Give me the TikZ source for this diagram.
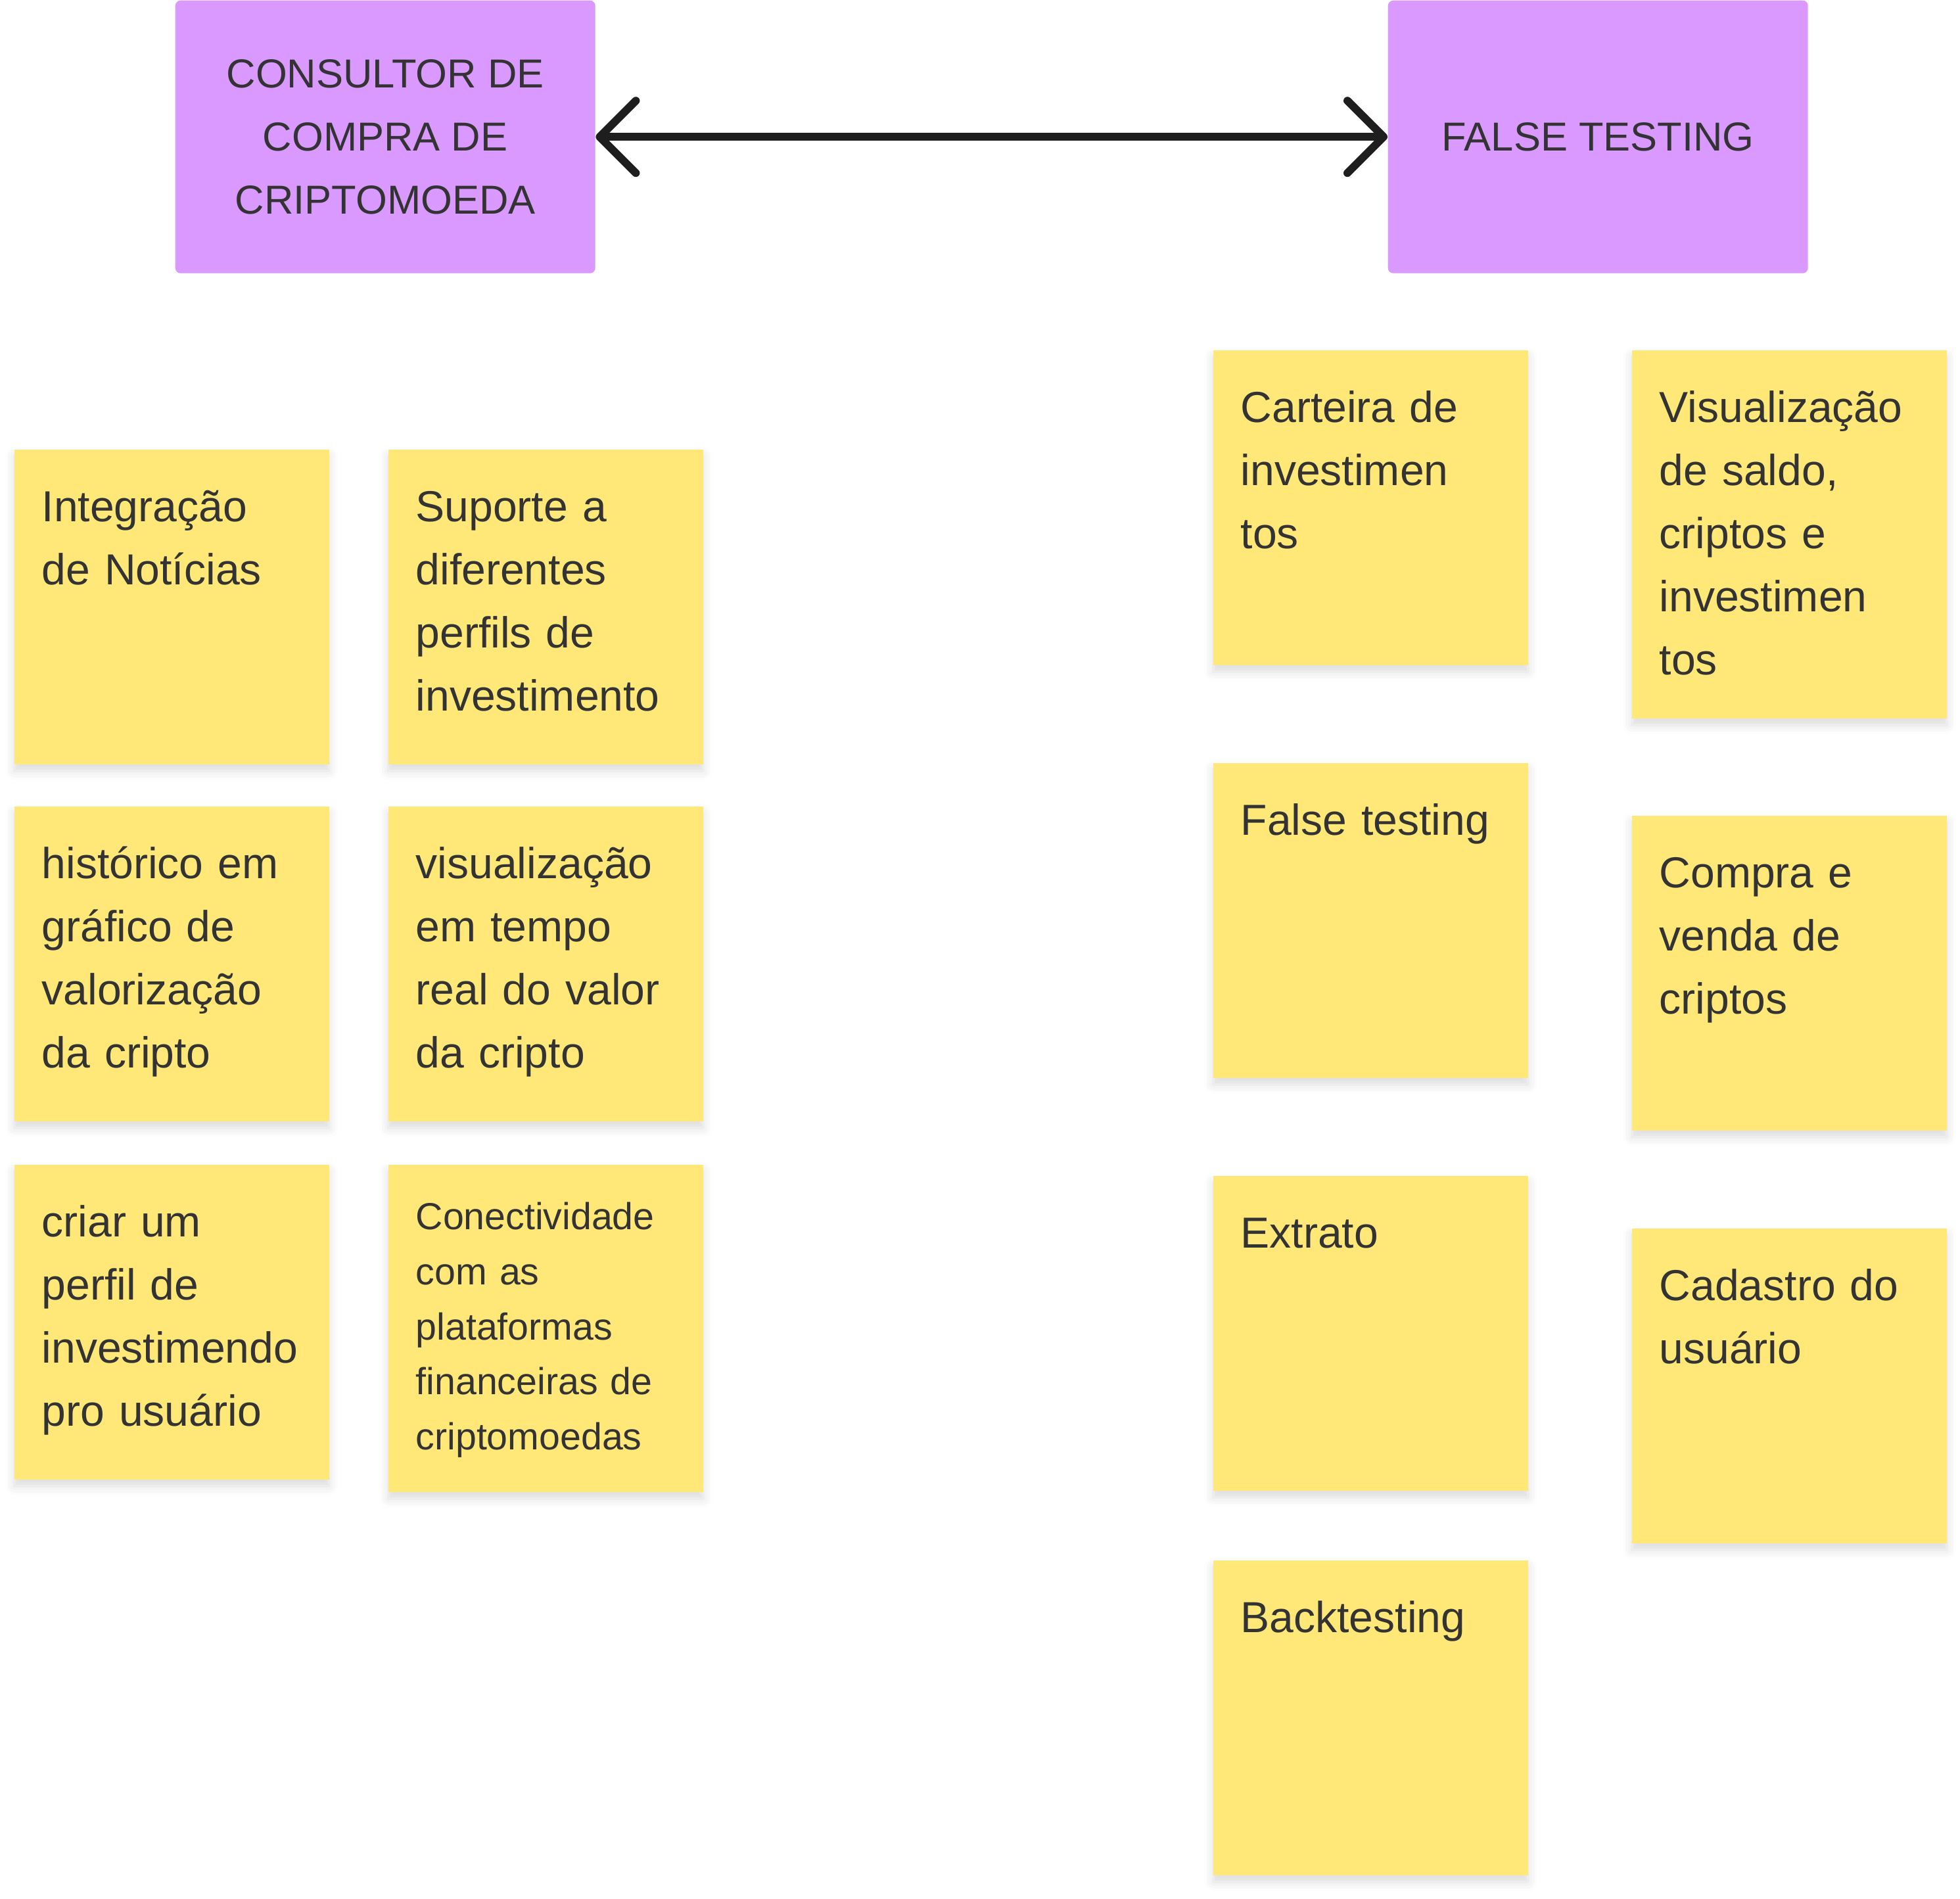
\documentclass[tikz,border=0pt]{standalone}
\usepackage{fontspec}
\setmainfont{Liberation Sans}
\usepackage{tikz}
\usetikzlibrary{arrows.meta,shadows.blur}
\definecolor{boardpurple}{RGB}{217,153,255}
\definecolor{boardyellow}{RGB}{255,232,120}
\definecolor{boardtext}{RGB}{51,51,51}
\definecolor{boardarrow}{RGB}{30,30,30}

\begin{document}
\begin{tikzpicture}[>={Straight Barb[length=0.55cm,width=1.1cm,round]},
  topic/.style={rectangle,rounded corners=0.08cm,fill=boardpurple,text=boardtext,
    minimum width=6.39cm,minimum height=4.15cm,anchor=north west,align=center,
    inner sep=0pt,font=\fontsize{17.5pt}{27.3pt}\selectfont},
  sticky/.style={rectangle,fill=boardyellow,text=boardtext,anchor=north west,
    inner xsep=0.42cm,inner ysep=0pt,text width=3.95cm,align=left,
    text height=1.1cm,text depth=3.69cm,
    font=\fontsize{18.8pt}{27.3pt}\selectfont,
    blur shadow={shadow xshift=0cm,shadow yshift=-0.1cm,shadow blur radius=0.14cm,shadow opacity=14}},
  smallsticky/.style={sticky,text height=0.99cm,text depth=3.99cm,
    font=\fontsize{16.3pt}{23.8pt}\selectfont},
  tallsticky/.style={sticky,text depth=4.5cm}]
  \useasboundingbox (0,0) rectangle (29.82,-28.88);

  % the two themes
  \node[topic] (consultor) at (2.66,0) {CONSULTOR DE\\COMPRA DE\\CRIPTOMOEDA};
  \node[topic] (falsetesting) at (21.11,0) {FALSE TESTING};
  \draw[<->,line width=0.12cm,boardarrow] (consultor) -- (falsetesting);

  % consultor stickies
  \node[sticky] (noticias) at (0.21,-6.83) {Integração\\de Notícias};
  \node[sticky] (perfis) at (5.90,-6.83) {Suporte a\\diferentes\\perfils de\\investimento};
  \node[sticky] (historico) at (0.21,-12.26) {histórico em\\gráfico de\\valorização\\da cripto};
  \node[sticky] (temporeal) at (5.90,-12.26) {visualização\\em tempo\\real do valor\\da cripto};
  \node[sticky] (perfil) at (0.21,-17.71) {criar um\\perfil de\\investimendo\\pro usuário};
  \node[smallsticky] (conectividade) at (5.90,-17.71) {Conectividade\\com as\\plataformas\\financeiras de\\criptomoedas};

  % false testing stickies
  \node[sticky] (carteira) at (18.45,-5.32) {Carteira de\\investimen\\tos};
  \node[sticky] (falsetest) at (18.45,-11.60) {False testing};
  \node[sticky] (extrato) at (18.45,-17.88) {Extrato};
  \node[sticky] (backtest) at (18.45,-23.73) {Backtesting};
  \node[tallsticky] (saldo) at (24.82,-5.32) {Visualização\\de saldo,\\criptos e\\investimen\\tos};
  \node[sticky] (compra) at (24.82,-12.40) {Compra e\\venda de\\criptos};
  \node[sticky] (cadastro) at (24.82,-18.68) {Cadastro do\\usuário};
\end{tikzpicture}
\end{document}
